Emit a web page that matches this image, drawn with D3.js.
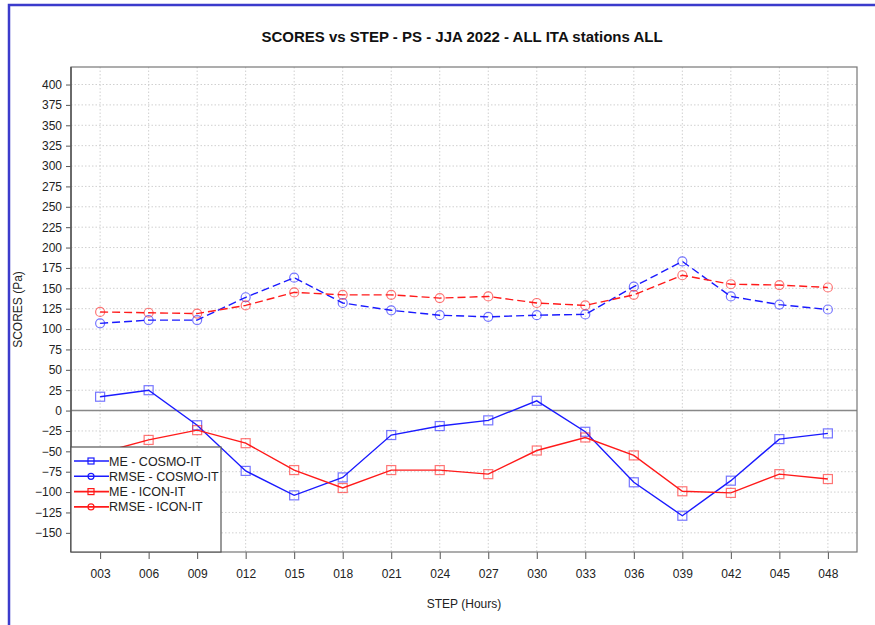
<!DOCTYPE html>
<html>
<head>
<meta charset="utf-8">
<script src="https://cdn.jsdelivr.net/npm/d3@7"></script>
<style>
  body { margin: 0; background: #fff; }
  svg { font-family: "Liberation Sans", Arial, sans-serif; }
</style>
</head>
<body>
<div id="chart"></div>
<script>
var steps = ["003", "006", "009", "012", "015", "018", "021", "024", "027", "030", "033", "036", "039", "042", "045", "048"];
var yTicks = [-150, -125, -100, -75, -50, -25, 0, 25, 50, 75, 100, 125, 150, 175, 200, 225, 250, 275, 300, 325, 350, 375, 400];

var meCosmo = [17, 25, -18, -74, -104, -82, -30, -19, -12, 12, -26, -88, -129, -86, -35, -28];
var rmseCosmo = [107, 111, 111, 139, 163, 132, 123, 117, 115, 117, 118, 152, 183, 140, 130, 124];
var meIcon = [-52, -36, -24, -40, -73, -95, -73, -73, -78, -49, -33, -55, -99, -101, -78, -84];
var rmseIcon = [121, 120, 119, 129, 145, 142, 142, 138, 140, 132, 129, 142, 166, 155, 154, 151];

var seriesNames = ["ME - COSMO-IT", "RMSE - COSMO-IT", "ME - ICON-IT", "RMSE - ICON-IT"];
var seriesValues = [meCosmo, rmseCosmo, meIcon, rmseIcon];
var seriesColor = ["#1a1aff", "#1a1aff", "#ff1a1a", "#ff1a1a"];
var seriesShape = ["square", "circle", "square", "circle"];
var seriesDash = [null, "8,4", null, "8,4"];

var W = 875, H = 625;
var pLeft = 71, pRight = 857, pTop = 67, pBottom = 552;

var svg = d3.select("#chart").append("svg").attr("width", W).attr("height", H);

// outer frame
svg.append("path")
  .attr("d", "M9," + H + " L9,5 L" + W + ",5")
  .attr("fill", "none").attr("stroke", "#3b3bcc").attr("stroke-width", 2.5);

var xs = d3.scalePoint().domain(steps).range([pLeft, pRight]).padding(0.6);
var ys = d3.scaleLinear().domain([-173.5, 421.5]).range([pBottom, pTop]);

// grid
svg.append("g").selectAll("line").data(yTicks).enter().append("line")
  .attr("x1", pLeft).attr("x2", pRight)
  .attr("y1", d => ys(d)).attr("y2", d => ys(d))
  .attr("stroke", "#d0d0d0").attr("stroke-dasharray", "1.5,2");
svg.append("g").selectAll("line").data(steps).enter().append("line")
  .attr("x1", d => xs(d)).attr("x2", d => xs(d))
  .attr("y1", pTop).attr("y2", pBottom)
  .attr("stroke", "#d0d0d0").attr("stroke-dasharray", "1.5,2");

// zero line
svg.append("line")
  .attr("x1", pLeft).attr("x2", pRight).attr("y1", ys(0)).attr("y2", ys(0))
  .attr("stroke", "#888").attr("stroke-width", 1.5);

// axes
var yAxis = svg.append("g").attr("transform", "translate(" + pLeft + ",0)")
  .call(d3.axisLeft(ys).tickValues(yTicks).tickSize(5).tickPadding(4));
yAxis.select(".domain").remove();
yAxis.selectAll("line").attr("stroke", "#555");
yAxis.selectAll("text").attr("font-size", 12).attr("fill", "#222").style("font-family", "Liberation Sans, Arial, sans-serif");

var xAxis = svg.append("g").attr("transform", "translate(0," + pBottom + ")")
  .call(d3.axisBottom(xs).tickSize(7).tickPadding(10));
xAxis.select(".domain").remove();
xAxis.selectAll("line").attr("stroke", "#555");
xAxis.selectAll("text").attr("font-size", 12).attr("fill", "#222").style("font-family", "Liberation Sans, Arial, sans-serif");

// series
var line = d3.line().x((d, i) => xs(steps[i])).y(d => ys(d));
seriesValues.forEach(function (vals, k) {
  svg.append("path").datum(vals)
    .attr("d", line)
    .attr("fill", "none")
    .attr("stroke", seriesColor[k])
    .attr("stroke-width", 1.4)
    .attr("stroke-dasharray", seriesDash[k]);
  var g = svg.append("g");
  vals.forEach(function (v, i) {
    drawMarker(g, seriesShape[k], xs(steps[i]), ys(v), seriesColor[k]);
  });
});

function drawMarker(g, shape, x, y, color) {
  if (shape == "square") {
    g.append("rect").attr("x", x - 4.5).attr("y", y - 4.5).attr("width", 9).attr("height", 9)
      .attr("fill", "none").attr("stroke", color).attr("stroke-opacity", 0.6).attr("stroke-width", 1.2);
  } else {
    g.append("circle").attr("cx", x).attr("cy", y).attr("r", 4.5)
      .attr("fill", "none").attr("stroke", color).attr("stroke-opacity", 0.6).attr("stroke-width", 1.2);
  }
}

// plot box
svg.append("rect").attr("x", pLeft).attr("y", pTop).attr("width", pRight - pLeft).attr("height", pBottom - pTop)
  .attr("fill", "none").attr("stroke", "#777").attr("stroke-width", 1.2);
svg.append("line").attr("x1", pLeft).attr("x2", pLeft).attr("y1", pTop).attr("y2", pBottom)
  .attr("stroke", "#555").attr("stroke-width", 1.5);

// legend
var lg = svg.append("g");
lg.append("rect").attr("x", pLeft).attr("y", 447).attr("width", 150).attr("height", pBottom - 447)
  .attr("fill", "#fff").attr("stroke", "#555").attr("stroke-width", 1.2);
seriesNames.forEach(function (name, k) {
  var y = 461 + k * 15.3;
  lg.append("line").attr("x1", 74).attr("x2", 109).attr("y1", y).attr("y2", y)
    .attr("stroke", seriesColor[k]).attr("stroke-width", 1.6);
  if (seriesShape[k] == "square") {
    lg.append("rect").attr("x", 88).attr("y", y - 3).attr("width", 6).attr("height", 6)
      .attr("fill", "none").attr("stroke", seriesColor[k]).attr("stroke-width", 1.2);
  } else {
    lg.append("circle").attr("cx", 91).attr("cy", y).attr("r", 3)
      .attr("fill", "none").attr("stroke", seriesColor[k]).attr("stroke-width", 1.2);
  }
  lg.append("text").attr("x", 109).attr("y", y + 4.5).attr("font-size", 12.5).attr("fill", "#222").text(name);
});

// titles
svg.append("text").attr("x", 462).attr("y", 42).attr("text-anchor", "middle")
  .attr("font-size", 15).attr("font-weight", "bold").attr("fill", "#111")
  .text("SCORES vs STEP - PS - JJA 2022 - ALL ITA stations ALL");
svg.append("text").attr("x", 464).attr("y", 608).attr("text-anchor", "middle")
  .attr("font-size", 12).attr("fill", "#222").text("STEP (Hours)");
svg.append("text").attr("transform", "translate(22," + ((pTop + pBottom) / 2) + ") rotate(-90)")
  .attr("text-anchor", "middle").attr("font-size", 12).attr("fill", "#222").text("SCORES (Pa)");
</script>
</body>
</html>
